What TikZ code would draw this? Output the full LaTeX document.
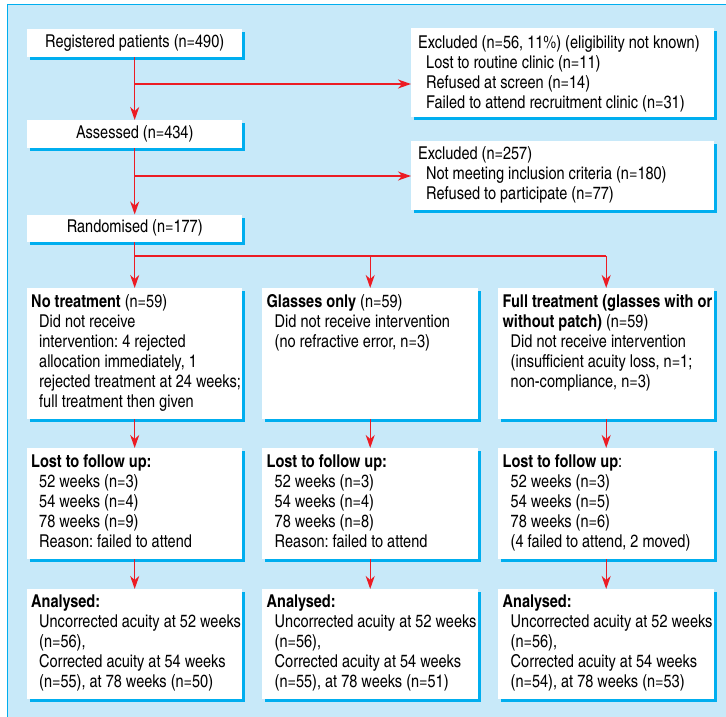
\documentclass[tikz,border=0pt]{standalone}
\usepackage{fontspec}
\setmainfont{texgyreheroscn}[Extension=.otf, UprightFont=*-regular, BoldFont=*-bold]
\usetikzlibrary{arrows.meta,shadows}
\definecolor{bgblue}{RGB}{200,233,249}
\definecolor{shblue}{RGB}{0,174,239}
\definecolor{arrred}{RGB}{236,28,36}
\newcommand{\ind}{\hspace*{8pt}}
\frenchspacing
\begin{document}
\begin{tikzpicture}[x=1pt,y=-1pt,
  box/.style={fill=white, draw=none, inner sep=0pt, anchor=north west,
    font=\fontsize{17.7}{20}\selectfont,
    drop shadow={shadow xshift=3pt, shadow yshift=-3pt, fill=shblue, opacity=1}},
  txt/.style={anchor=north west, inner sep=0pt, align=left,
    font=\fontsize{17.7}{20}\selectfont, execute at begin node={\rule{0pt}{13pt}}},
  arr/.style={draw=arrred, line width=1.4pt, -{Stealth[length=13pt,width=9pt,inset=4pt]}},
  ln/.style={draw=arrred, line width=1.4pt}]
\useasboundingbox (0,0) rectangle (726,717);
\begin{scope}
\clip (0,0) rectangle (726,717);
\fill[white] (0,0) rectangle (726,717);
\filldraw[fill=bgblue, draw=shblue, line width=1pt] (7,5) rectangle (760,760);
\end{scope}

% boxes
\node[box, minimum width=215pt, minimum height=28pt] (reg) at (27,29) {Registered patients (n=490)};
\node[box, minimum width=215pt, minimum height=28pt] (ass) at (27,120) {Assessed (n=434)};
\node[box, minimum width=215pt, minimum height=27pt] (ran) at (27,214.5) {Randomised (n=177)};
\node[box, minimum width=303pt, minimum height=89pt] (ex1) at (411,28) {};
\node[box, minimum width=303pt, minimum height=69pt] (ex2) at (411,141) {};
\node[box, minimum width=215pt, minimum height=131pt] (nt) at (27,288) {};
\node[box, minimum width=216pt, minimum height=131pt] (go) at (262,288) {};
\node[box, minimum width=216pt, minimum height=131pt] (ft) at (498,288) {};
\node[box, minimum width=215pt, minimum height=111pt] (l1) at (27,448) {};
\node[box, minimum width=216pt, minimum height=111pt] (l2) at (262,448) {};
\node[box, minimum width=216pt, minimum height=111pt] (l3) at (498,448) {};
\node[box, minimum width=215pt, minimum height=110pt] (a1) at (27,589) {};
\node[box, minimum width=216pt, minimum height=110pt] (a2) at (262,589) {};
\node[box, minimum width=216pt, minimum height=110pt] (a3) at (498,589) {};

% texts
\node[txt] (tex1) at ([xshift=7pt,yshift=-7pt]ex1.north west) {Excluded (n=56, 11\%) (eligibility not known)\\
\ind Lost to routine clinic (n=11)\\ \ind Refused at screen (n=14)\\ \ind Failed to attend recruitment clinic (n=31)};
\node[txt] (tex2) at ([xshift=7pt,yshift=-5pt]ex2.north west) {Excluded (n=257)\\
\ind Not meeting inclusion criteria (n=180)\\ \ind Refused to participate (n=77)};
\node[txt] (tnt) at ([xshift=4pt,yshift=-6pt]nt.north west) {\textbf{No treatment} (n=59)\\
\ind Did not receive\\ \ind intervention: 4 rejected\\ \ind allocation immediately, 1\\ \ind rejected treatment at 24 weeks;\\ \ind full treatment then given};
\node[txt] (tgo) at ([xshift=4.5pt,yshift=-6pt]go.north west) {\textbf{Glasses only} (n=59)\\
\ind Did not receive intervention\\ \ind (no refractive error, n=3)};
\node[txt] (tft) at ([xshift=4.5pt,yshift=-6pt]ft.north west) {\textbf{Full treatment (glasses with or}\\
\textbf{without patch)} (n=59)\\ \ind Did not receive intervention\\ \ind (insufficient acuity loss, n=1;\\ \ind non-compliance, n=3)};
\node[txt] (tl1) at ([xshift=4pt,yshift=-6pt]l1.north west) {\textbf{Lost to follow up:}\\
\ind 52 weeks (n=3)\\ \ind 54 weeks (n=4)\\ \ind 78 weeks (n=9)\\ \ind Reason: failed to attend};
\node[txt] (tl2) at ([xshift=4.5pt,yshift=-6pt]l2.north west) {\textbf{Lost to follow up:}\\
\ind 52 weeks (n=3)\\ \ind 54 weeks (n=4)\\ \ind 78 weeks (n=8)\\ \ind Reason: failed to attend};
\node[txt] (tl3) at ([xshift=4.5pt,yshift=-6pt]l3.north west) {\textbf{Lost to follow up}:\\
\ind 52 weeks (n=3)\\ \ind 54 weeks (n=5)\\ \ind 78 weeks (n=6)\\ \ind (4 failed to attend, 2 moved)};
\node[txt] (ta1) at ([xshift=4pt,yshift=-6pt]a1.north west) {\textbf{Analysed:}\\
\ind Uncorrected acuity at 52 weeks\\ \ind (n=56),\\ \ind Corrected acuity at 54 weeks\\ \ind (n=55), at 78 weeks (n=50)};
\node[txt] (ta2) at ([xshift=4.5pt,yshift=-6pt]a2.north west) {\textbf{Analysed:}\\
\ind Uncorrected acuity at 52 weeks\\ \ind (n=56),\\ \ind Corrected acuity at 54 weeks\\ \ind (n=55), at 78 weeks (n=51)};
\node[txt] (ta3) at ([xshift=4.5pt,yshift=-6pt]a3.north west) {\textbf{Analysed:}\\
\ind Uncorrected acuity at 52 weeks\\ \ind (n=56),\\ \ind Corrected acuity at 54 weeks\\ \ind (n=54), at 78 weeks (n=53)};

% connectors
\coordinate (b1) at (reg.south |- 0,84);
\coordinate (b2) at (reg.south |- 0,176);
\coordinate (b3) at (reg.south |- 0,256);
\draw[arr] (reg.south) -- (ass.north);
\draw[arr] (b1) -- (b1 -| ex1.west);
\draw[arr] (ass.south) -- (ran.north);
\draw[arr] (b2) -- (b2 -| ex2.west);
\draw[ln] (ran.south) -- (b3) -- (b3 -| ft.north);
\draw[arr] (b3) -- (nt.north);
\draw[arr] (b3 -| go.north) -- (go.north);
\draw[arr] (b3 -| ft.north) -- (ft.north);
\draw[arr] (nt.south) -- (l1.north);
\draw[arr] (go.south) -- (l2.north);
\draw[arr] (ft.south) -- (l3.north);
\draw[arr] (l1.south) -- (a1.north);
\draw[arr] (l2.south) -- (a2.north);
\draw[arr] (l3.south) -- (a3.north);
\end{tikzpicture}
\end{document}
